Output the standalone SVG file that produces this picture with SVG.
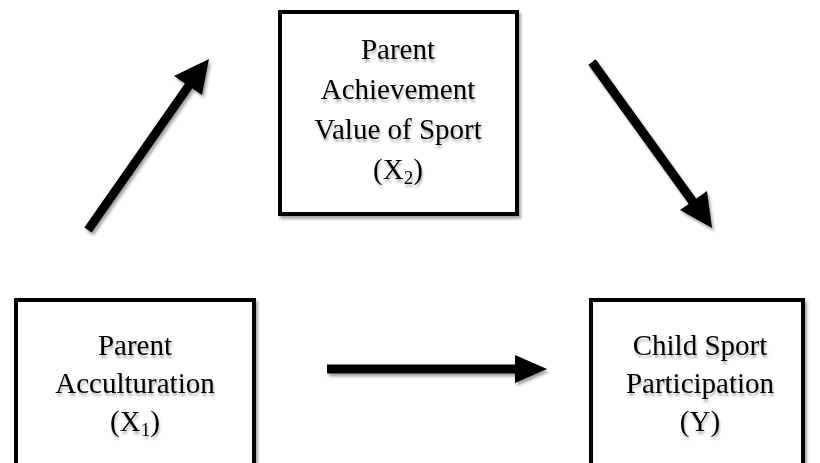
<svg xmlns="http://www.w3.org/2000/svg" width="820" height="463" viewBox="0 0 820 463">
  <defs>
    <filter id="shadow" x="-20%" y="-20%" width="140%" height="140%">
      <feDropShadow dx="2" dy="3" stdDeviation="1.5" flood-color="#000" flood-opacity="0.35"/>
    </filter>
    <filter id="tshadow" x="-10%" y="-20%" width="120%" height="160%">
      <feDropShadow dx="1" dy="3" stdDeviation="1.2" flood-color="#000" flood-opacity="0.3"/>
    </filter>
  </defs>
  <style>
    .box { fill: #ffffff; stroke: #000000; stroke-width: 4; }
    .lbl { font-family: "Liberation Serif", "Times New Roman", serif; font-size: 29px; fill: #000000; text-anchor: middle; }
    .sub { font-size: 19px; }
    .arrow { fill: #000000; }
  </style>
  <rect width="820" height="463" fill="#ffffff"/>

  <g id="connectors" filter="url(#shadow)">
    <g id="edge-x1-x2">
      <line x1="88" y1="230" x2="190" y2="84" stroke="#000" stroke-width="9"/>
      <polygon class="arrow" points="209,59 202,95 174,76"/>
    </g>
    <g id="edge-x2-y">
      <line x1="592" y1="62" x2="693" y2="202" stroke="#000" stroke-width="9"/>
      <polygon class="arrow" points="712,228 680,210 707,191"/>
    </g>
    <g id="edge-x1-y">
      <line x1="327" y1="369" x2="518" y2="369" stroke="#000" stroke-width="9"/>
      <polygon class="arrow" points="547,369 515,355 515,383"/>
    </g>
  </g>

  <g id="node-x2">
    <rect class="box" x="280" y="12" width="237" height="202" filter="url(#shadow)"/>
    <g filter="url(#tshadow)">
      <text class="lbl" x="398" y="59">Parent</text>
      <text class="lbl" x="398" y="99">Achievement</text>
      <text class="lbl" x="398" y="139">Value of Sport</text>
      <text class="lbl" x="398" y="179">(X<tspan class="sub" dy="5">2</tspan><tspan dy="-5">)</tspan></text>
    </g>
  </g>

  <g id="node-x1">
    <rect class="box" x="16" y="300" width="238" height="190" filter="url(#shadow)"/>
    <g filter="url(#tshadow)">
      <text class="lbl" x="135" y="355">Parent</text>
      <text class="lbl" x="135" y="393">Acculturation</text>
      <text class="lbl" x="135" y="431">(X<tspan class="sub" dy="5">1</tspan><tspan dy="-5">)</tspan></text>
    </g>
  </g>

  <g id="node-y">
    <rect class="box" x="591" y="300" width="212" height="190" filter="url(#shadow)"/>
    <g filter="url(#tshadow)">
      <text class="lbl" x="700" y="355">Child Sport</text>
      <text class="lbl" x="700" y="393">Participation</text>
      <text class="lbl" x="700" y="431">(Y)</text>
    </g>
  </g>
</svg>
